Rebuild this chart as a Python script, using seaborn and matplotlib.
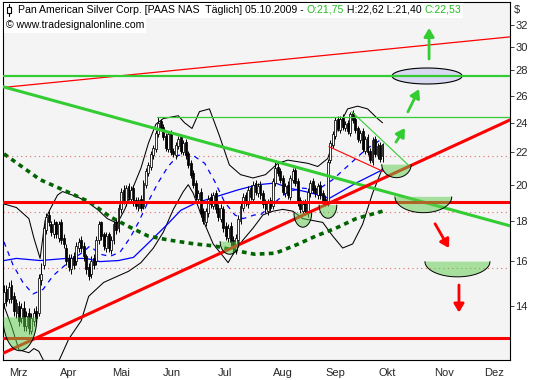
import numpy as np
import pandas as pd
import seaborn as sns
import matplotlib.pyplot as plt
from matplotlib.patches import Rectangle, Polygon
from matplotlib.lines import Line2D
from matplotlib.ticker import FixedLocator, FixedFormatter, NullLocator

# daily bars, PAAS, early March to 05.10.2009
opens = [14.1, 14.7, 14.3, 14.9, 14.4, 13.7, 14.0, 13.5, 13.9, 13.2, 13.7, 13.0, 13.4, 13.8, 13.7,
         15.1, 15.8, 17.5, 18.3, 17.8, 17.3, 17.9, 17.1, 17.9, 17.1, 16.6, 16.1, 15.6, 16.2, 16.0,
         16.6, 17.0, 16.7, 16.2, 15.7, 15.4, 16.1, 16.0, 17.0, 17.9, 17.3, 16.6, 17.3, 16.5, 17.0,
         17.9, 17.6, 18.6, 19.7, 19.0, 19.9, 19.2, 19.8, 19.1, 18.7, 19.2, 18.8, 20.0, 20.7, 21.1,
         21.8, 22.2, 23.2, 24.1, 23.7, 23.1, 22.2, 23.3, 22.1, 21.8, 22.4, 23.0, 22.0, 22.7, 21.9,
         21.3, 20.7, 20.1, 19.2, 19.6, 18.5, 17.9, 18.4, 19.3, 18.8, 19.5, 18.7, 18.1, 18.6, 17.7,
         17.1, 17.7, 17.0, 16.5, 17.0, 18.0, 18.7, 19.4, 18.9, 19.8, 19.2, 20.1, 19.5, 20.0, 19.5,
         19.0, 18.5, 19.1, 18.8, 20.1, 21.1, 20.8, 20.4, 19.5, 20.0, 19.3, 20.3, 20.9, 20.2, 19.1,
         18.5, 19.0, 18.4, 19.5, 20.2, 19.8, 19.4, 20.0, 19.5, 19.2, 19.0, 21.5, 22.5, 23.1, 24.3,
         23.5, 24.4, 23.6, 24.0, 23.3, 24.7, 24.3, 23.6, 22.8, 23.4, 22.1, 23.0, 22.1, 21.4, 22.9,
         21.8, 22.5, 21.75]
highs = [14.9, 14.9, 15.0, 15.1, 14.6, 14.3, 14.2, 14.1, 14.2, 13.8, 13.9, 13.7, 13.9, 14.0, 15.4,
         15.9, 17.8, 18.4, 18.5, 18.0, 18.1, 18.0, 18.0, 18.1, 17.3, 16.8, 16.3, 16.3, 16.4, 16.9,
         17.1, 17.2, 16.9, 16.3, 15.9, 16.2, 16.3, 17.2, 18.0, 18.0, 17.4, 17.4, 17.4, 17.2, 18.0,
         18.1, 18.9, 19.8, 20.0, 20.0, 20.1, 19.9, 20.0, 19.3, 19.3, 19.4, 20.3, 21.0, 21.4, 22.1,
         22.5, 23.5, 24.4, 24.3, 23.9, 23.3, 23.4, 23.5, 22.3, 22.7, 23.1, 23.2, 22.8, 22.9, 22.1,
         21.5, 20.9, 20.3, 19.7, 19.8, 18.7, 18.7, 19.4, 19.5, 19.6, 19.7, 18.9, 18.9, 18.8, 17.9,
         17.8, 17.9, 17.2, 17.3, 18.3, 19.0, 19.5, 19.6, 19.9, 20.0, 20.2, 20.3, 20.1, 20.2, 19.7,
         19.2, 19.2, 19.3, 20.4, 21.4, 21.3, 21.0, 20.6, 20.1, 20.2, 20.6, 21.0, 21.1, 20.4, 19.3,
         19.1, 19.2, 19.8, 20.3, 20.4, 20.0, 20.1, 20.2, 19.7, 19.4, 21.6, 22.8, 23.4, 24.4, 24.5,
         24.5, 24.6, 24.1, 24.2, 24.8, 24.9, 24.5, 23.8, 23.5, 23.6, 23.1, 23.2, 22.3, 23.0, 23.1,
         22.6, 22.7, 22.62]
lows = [13.9, 14.0, 14.1, 14.1, 13.6, 13.5, 13.2, 13.3, 13.0, 13.0, 12.9, 12.9, 13.2, 13.3, 13.6,
        14.9, 15.6, 17.3, 17.7, 17.2, 17.1, 17.1, 16.9, 16.8, 16.6, 15.8, 15.5, 15.4, 15.6, 15.8,
        16.4, 16.4, 16.0, 15.4, 15.1, 15.2, 15.6, 15.8, 16.8, 17.0, 16.5, 16.4, 16.4, 16.3, 16.8,
        17.3, 17.4, 18.4, 18.9, 18.8, 19.1, 19.0, 18.8, 18.6, 18.5, 18.5, 18.6, 19.8, 20.5, 20.9,
        21.6, 22.0, 23.0, 23.4, 22.8, 22.1, 22.0, 21.8, 21.7, 21.6, 22.2, 21.9, 21.8, 21.6, 21.0,
        20.4, 19.8, 19.1, 19.0, 18.2, 17.8, 17.7, 18.2, 18.7, 18.6, 18.4, 18.0, 17.9, 17.4, 17.0,
        16.9, 16.7, 16.3, 16.3, 16.8, 17.8, 18.5, 18.8, 18.7, 19.1, 19.0, 19.4, 19.3, 19.2, 18.7,
        18.4, 18.3, 18.5, 18.6, 19.9, 20.5, 20.1, 19.4, 19.3, 19.2, 19.1, 20.1, 19.9, 18.8, 18.4,
        18.3, 18.3, 18.2, 19.3, 19.5, 19.3, 19.2, 19.2, 18.9, 18.8, 18.8, 21.3, 22.3, 22.9, 23.4,
        23.3, 23.5, 23.4, 23.2, 23.1, 24.0, 23.3, 22.7, 22.6, 22.0, 21.9, 21.8, 21.3, 21.2, 21.7,
        21.6, 21.4, 21.40]
closes = [14.6, 14.2, 14.8, 14.3, 13.8, 14.1, 13.4, 13.9, 13.2, 13.6, 13.1, 13.5, 13.7, 13.5, 15.2,
          15.4, 17.6, 18.2, 17.9, 17.4, 17.8, 17.3, 17.8, 17.0, 16.8, 16.0, 15.7, 16.1, 15.8, 16.7,
          16.9, 16.6, 16.2, 15.6, 15.3, 16.0, 15.8, 17.0, 17.8, 17.2, 16.7, 17.2, 16.6, 17.0, 17.8,
          17.5, 18.7, 19.6, 19.1, 19.8, 19.3, 19.7, 19.0, 18.8, 19.1, 18.7, 20.1, 20.8, 21.2, 21.9,
          22.3, 23.3, 24.0, 23.6, 23.0, 22.3, 23.2, 22.0, 21.9, 22.5, 22.9, 22.1, 22.6, 21.8, 21.2,
          20.6, 20.0, 19.3, 19.5, 18.4, 18.0, 18.5, 19.2, 18.9, 19.4, 18.6, 18.2, 18.7, 17.6, 17.2,
          17.6, 16.9, 16.6, 17.1, 18.1, 18.8, 19.3, 19.0, 19.7, 19.3, 20.0, 19.6, 19.9, 19.4, 18.9,
          18.6, 19.0, 18.7, 20.2, 21.0, 20.7, 20.3, 19.6, 19.9, 19.4, 20.4, 20.8, 20.1, 19.0, 18.6,
          18.9, 18.5, 19.6, 20.1, 19.7, 19.5, 19.9, 19.4, 19.1, 19.0, 21.4, 22.6, 23.2, 24.2, 23.6,
          24.3, 23.7, 23.9, 23.4, 24.6, 24.2, 23.5, 22.9, 23.3, 22.2, 22.9, 22.0, 21.5, 22.8, 21.9,
          22.4, 21.6, 22.53]

months = ['Mrz', 'Apr', 'Mai', 'Jun', 'Jul', 'Aug', 'Sep', 'Okt', 'Nov', 'Dez']
month_pos = [2.2, 22.3, 43.6, 63.6, 86.0, 108.2, 129.2, 150.5, 172.7, 192.8]
price_ticks = [14, 16, 18, 20, 22, 24, 26, 28, 30, 32]

# indicator lines, sampled at bar positions
ma200_x = [0, 14.5, 23.7, 34.5, 42.6, 49.8, 57.8, 65.9, 76.6, 84.6, 94, 100.7, 109, 117.3, 125.3, 133.3, 141.4, 152]
ma200_y = [21.9, 20.3, 19.7, 19.0, 18.2, 17.7, 17.2, 17.0, 16.8, 16.7, 16.45, 16.3, 16.35, 16.75, 17.2, 17.6, 18.1, 18.5]
ma50_x = [0, 5, 14.5, 25, 33, 38.5, 46, 52, 58, 66, 71, 77, 85, 94, 102, 109, 114.5, 121, 128, 130.5, 141.4, 152]
ma50_y = [16.0, 16.1, 16.0, 16.1, 16.1, 15.95, 16.0, 16.15, 16.85, 17.85, 18.55, 18.95, 19.3, 19.7, 20.0, 20.1, 19.8, 19.6, 19.35, 19.2, 20.1, 20.9]
ma20_x = [0, 3.6, 7.6, 11.6, 15.7, 19.7, 23.7, 27.3, 31.7, 34.5, 38.6, 42.6, 46.6, 50.6, 54, 57.8, 61.8, 65.9,
          69.9, 75, 80.6, 84.6, 88.6, 92.7, 96, 100.7, 103, 108, 114, 120, 126, 132, 138.5, 145.4, 152]
ma20_y = [16.9, 15.8, 15.0, 14.5, 14.7, 15.3, 15.7, 16.05, 16.4, 16.7, 16.3, 16.2, 16.4, 17.1, 17.9, 19.0, 20.1, 21.1,
          21.8, 21.9, 21.3, 20.2, 19.0, 18.3, 18.1, 18.3, 18.3, 18.9, 19.6, 19.8, 19.7, 20.3, 21.2, 22.2, 22.9]
bb_up_x = [0, 5, 10, 12, 14.5, 16.5, 18.5, 21.5, 23.5, 29.5, 33.5, 37.5, 41.5, 45.5, 48.5, 52, 55, 58, 61, 64,
           67, 70, 72.5, 75.5, 78.5, 82.5, 86.5, 90.5, 95, 100, 105, 110, 114, 118, 122, 126, 130, 134, 138, 142, 146, 150, 152]
bb_up_y = [18.9, 18.7, 18.1, 17.1, 16.1, 18.0, 18.6, 19.4, 19.6, 19.3, 19.0, 18.6, 18.1, 17.85, 18.6, 19.9, 21.0, 22.6, 23.9, 24.3,
           24.4, 24.5, 24.0, 23.6, 24.8, 25.0, 23.1, 21.2, 20.6, 20.4, 20.6, 21.3, 21.5, 21.4, 21.3, 21.1, 21.6, 23.6, 25.0, 25.2, 25.0, 24.3, 24.0]
bb_lo_x = [0, 3, 6, 10, 12, 14, 16, 22, 26, 31, 34, 40, 44, 50, 55, 60, 64, 68, 72, 74, 76, 80, 84, 88, 90, 92,
           96, 100, 104, 108, 112, 116, 120, 124, 128, 132, 136, 140, 144, 148, 152]
bb_lo_y = [14.0, 13.2, 12.3, 12.2, 12.35, 12.25, 11.9, 11.9, 12.7, 13.4, 14.4, 15.0, 15.2, 15.5, 15.9, 16.6, 17.4, 18.6, 19.6, 20.0, 19.5, 18.0, 16.8, 16.2, 15.9, 16.3,
           17.0, 17.6, 18.3, 18.5, 18.6, 18.5, 18.1, 18.0, 17.9, 17.2, 16.6, 16.8, 17.8, 19.5, 21.0]

# drawn analysis objects (bar index, price)
hlines_red = [19.0, 12.75]
hline_green = 27.57
resist_level = 24.4
dotted_levels = [21.75, 18.45, 15.65]
trend_green = ([-1.6, 203.2], [26.75, 17.72])
trend_red = ([-1.6, 203.2], [12.13, 24.2])
channel_top = ([-1.6, 203.2], [26.6, 30.9])
seg_red = ([130.5, 152.2], [22.37, 20.8])
seg_green = ([139.6, 163.0], [24.8, 21.1])
# bowls: centre bar, half width (bars), rim price, bottom price
bowls = [(6.4, 6.8, 13.54, 12.27), (90.6, 3.8, 16.92, 16.3), (120.0, 3.55, 18.40, 17.65),
         (130.1, 3.55, 18.84, 18.12), (157.6, 5.9, 21.22, 20.42), (168.4, 11.4, 19.3, 18.42),
         (182.1, 13.05, 15.95, 15.25)]
target_ellipse = (169.9, 14.06, 27.54, 0.0235)
arrows_green = [((170.7, 28.95), (170.7, 31.72)), ((162.2, 24.78), (166.7, 26.5)), ((157.4, 22.67), (161.0, 23.63))]
arrows_red = [((173.1, 17.83), (178.7, 16.6)), ((182.7, 14.89), (182.7, 13.73))]

sns.set_style('white')
plt.rcParams['font.family'] = ['Liberation Sans', 'DejaVu Sans']

fig = plt.figure(figsize=(5.33, 3.80), dpi=100)
ax = fig.add_axes([3 / 533, 20 / 380, 507 / 533, 358 / 380])
ax.set_facecolor('#f4f4f4')
ax.set_yscale('log')
ax.set_xlim(-0.4, 203.2)
ax.set_ylim(11.94, 34.24)

df = pd.DataFrame({'open': opens, 'high': highs, 'low': lows, 'close': closes})
df['x'] = np.arange(len(df))

# static lines
for lv in dotted_levels:
    ax.axhline(lv, color='#e07070', lw=0.8, ls=(0, (1, 3)), zorder=1)

sns.lineplot(x=bb_up_x, y=bb_up_y, ax=ax, color='black', lw=0.75, zorder=2)
sns.lineplot(x=bb_lo_x, y=bb_lo_y, ax=ax, color='black', lw=0.75, zorder=2)
sns.lineplot(x=ma50_x, y=ma50_y, ax=ax, color='#0000ff', lw=0.9, zorder=2)
ax.plot(ma20_x, ma20_y, color='#0000ff', lw=0.9, ls=(0, (4, 4)), zorder=2)
ax.plot(ma200_x, ma200_y, color='#006400', lw=2.6, ls=(0, (1.3, 1.2)), zorder=2)

# candles
up = df[df.close >= df.open]
dn = df[df.close < df.open]
ax.vlines(df.x, df.low, df.high, color='black', lw=0.7, zorder=3)
ax.bar(up.x, up.close - up.open, bottom=up.open, width=0.75, color='white', edgecolor='black', lw=0.55, zorder=4)
ax.bar(dn.x, dn.open - dn.close, bottom=dn.close, width=0.75, color='black', edgecolor='black', lw=0.55, zorder=4)

# drawings
ax.plot(*channel_top, color='#ff0000', lw=0.9, zorder=5)
ax.axhline(hline_green, color='#33cc33', lw=1.6, zorder=5)
ax.plot([61.4, 203.2], [resist_level, resist_level], color='#33cc33', lw=0.9, zorder=5)
ax.plot(*seg_red, color='#ff0000', lw=0.8, zorder=5)
ax.plot(*seg_green, color='#33cc33', lw=0.8, zorder=5)
ax.plot(*trend_green, color='#33cc33', lw=2.2, zorder=5)
for lv in hlines_red:
    ax.axhline(lv, color='#ff0000', lw=2.2, zorder=5)
ax.plot(*trend_red, color='#ff0000', lw=2.2, zorder=5)

t = np.linspace(0, np.pi, 60)
for cx, hw, top, bot in bowls:
    xs = cx + hw * np.cos(t)
    ys = np.exp(np.log(top) - (np.log(top) - np.log(bot)) * np.sin(t))
    ax.add_patch(Polygon(np.column_stack([xs, ys]), closed=True, facecolor='#5ccc4c', alpha=0.5,
                         edgecolor='none', zorder=6))
    ax.plot(xs, ys, color='black', lw=0.7, zorder=6)

cx, hw, cy, hb = target_ellipse
t2 = np.linspace(0, 2 * np.pi, 100)
ax.add_patch(Polygon(np.column_stack([cx + hw * np.cos(t2), np.exp(np.log(cy) + hb * np.sin(t2))]),
                     closed=True, facecolor='#d8d8f0', edgecolor='black', lw=0.8, zorder=4.5))

for (a, b) in arrows_green:
    ax.annotate('', xy=b, xytext=a, arrowprops=dict(arrowstyle='-|>,head_length=0.5,head_width=0.3',
                color='#33cc33', lw=2, shrinkA=0, shrinkB=0), zorder=7)
for (a, b) in arrows_red:
    ax.annotate('', xy=b, xytext=a, arrowprops=dict(arrowstyle='-|>,head_length=0.5,head_width=0.3',
                color='#ff0000', lw=2, shrinkA=0, shrinkB=0), zorder=7)

# axes styling
for s in ax.spines.values():
    s.set_color('black')
    s.set_linewidth(0.8)
ax.yaxis.tick_right()
ax.yaxis.set_major_locator(FixedLocator(price_ticks))
ax.yaxis.set_major_formatter(FixedFormatter([str(p) for p in price_ticks]))
ax.yaxis.set_minor_locator(NullLocator())
ax.xaxis.set_major_locator(FixedLocator(month_pos))
ax.xaxis.set_major_formatter(FixedFormatter(months))
ax.tick_params(axis='y', direction='out', length=3, width=0.6, pad=1, labelsize=8, right=True, left=False)
ax.tick_params(axis='x', direction='out', length=3, width=0.6, pad=3, labelsize=8)
for lab in ax.get_xticklabels():
    lab.set_horizontalalignment('left')
ax.set_xlabel('')
ax.set_ylabel('')
fig.text(514 / 533, 1 - 10 / 380, '$', fontsize=8, va='center', ha='left')

# header
r = fig.canvas.get_renderer()
def row(x_px, y_px, parts):
    x = x_px / 533
    for txt, col in parts:
        tx = fig.text(x, 1 - y_px / 380, txt, color=col, fontsize=7.6, va='center', ha='left', zorder=10)
        x += tx.get_window_extent(r).width / fig.bbox.width
    return x

head1 = [('Pan American Silver Corp. [PAAS NAS  Täglich] 05.10.2009 - ', 'black'), ('O:21,75', '#22bb22'),
         (' H:22,62 L:21,40 ', 'black'), ('C:22,53', '#22bb22')]
end1 = row(18, 10, head1)
end2 = row(6, 25, [('© www.tradesignalonline.com', 'black')])
fig.add_artist(Rectangle((3.5 / 533, 1 - 18 / 380), end1 + 2 / 533 - 3.5 / 533, 15 / 380,
                         transform=fig.transFigure, facecolor='white', edgecolor='none', zorder=9))
fig.add_artist(Rectangle((3.5 / 533, 1 - 33 / 380), end2 + 2 / 533 - 3.5 / 533, 15 / 380,
                         transform=fig.transFigure, facecolor='white', edgecolor='none', zorder=9))
fig.add_artist(Line2D([9 / 533, 9 / 533], [1 - 4 / 380, 1 - 16 / 380], color='black', lw=0.8, zorder=10))
fig.add_artist(Rectangle((7 / 533, 1 - 13 / 380), 4 / 533, 6 / 380, transform=fig.transFigure,
                         facecolor='white', edgecolor='black', lw=0.8, zorder=10))

fig.savefig('out.png', dpi=100)
